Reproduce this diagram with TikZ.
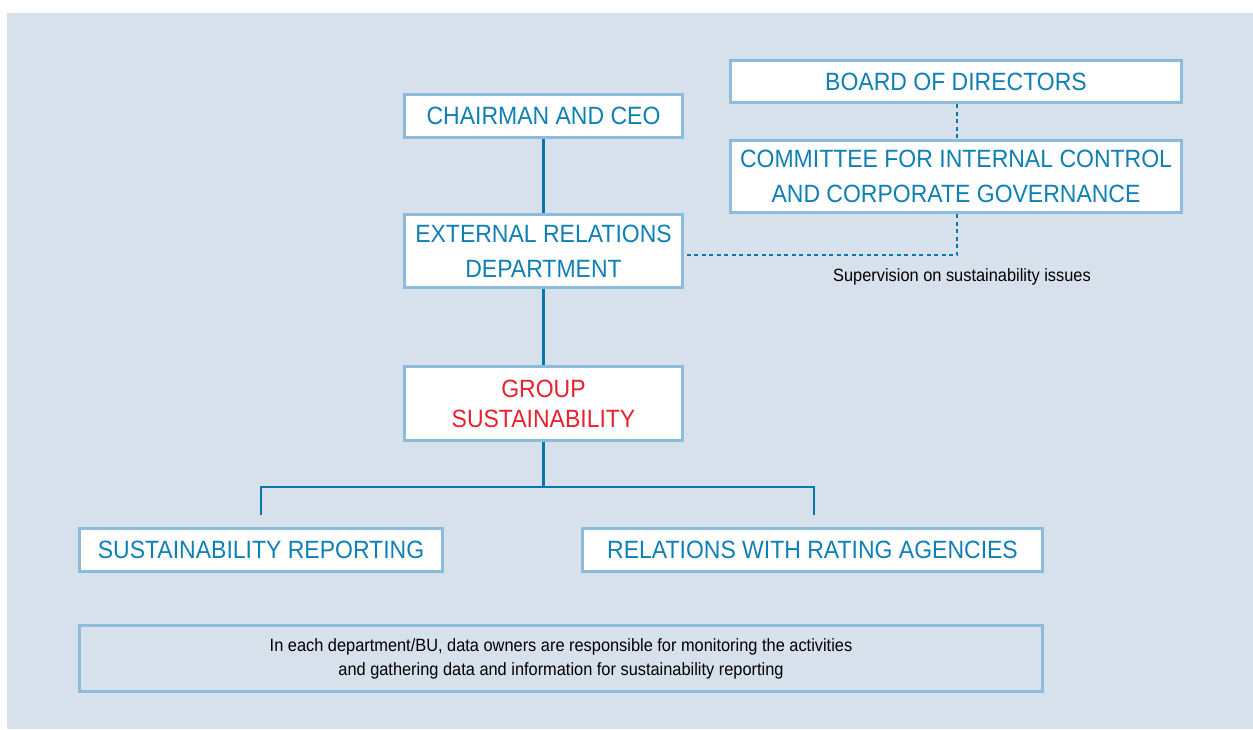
\documentclass[tikz,border=0pt]{standalone}
\usepackage{fontspec}
\setmainfont{Liberation Sans}[FakeStretch=0.92]
\definecolor{bgblue}{HTML}{D6E1EC}
\definecolor{boxborder}{HTML}{8DBBDB}
\definecolor{textblue}{HTML}{0F80B5}
\definecolor{lineblue}{HTML}{0B76AB}
\definecolor{grpred}{HTML}{E8202F}
\begin{document}
\begin{tikzpicture}[x=1pt,y=-1pt,
  box/.style={draw=boxborder, line width=3pt, fill=white, inner sep=0pt, align=center,
    text=textblue, font=\fontsize{25}{35}\selectfont},
  conn/.style={draw=lineblue, line width=2.5pt},
  dotline/.style={draw=lineblue, line width=2.5pt, dash pattern=on 4pt off 3.5pt},
  small/.style={text=black, inner sep=0pt, align=center, font=\fontsize{17.8}{24}\selectfont}]
\useasboundingbox (0,0) rectangle (1253,729);
\fill[bgblue] (7,13) rectangle (1253,729);
% boxes
\node[box, minimum width=278pt, minimum height=43pt] (chair) at (543.5,116) {CHAIRMAN AND CEO};
\node[box, minimum width=278pt, minimum height=73pt] (ext) at (543.5,251) {EXTERNAL RELATIONS\\DEPARTMENT};
\node[box, minimum width=278pt, minimum height=74pt, text=grpred, font=\fontsize{25}{30}\selectfont] (grp) at (543.5,403.5) {GROUP\\SUSTAINABILITY};
\node[box, minimum width=451pt, minimum height=42pt] (board) at (956,81.5) {BOARD OF DIRECTORS};
\node[box, minimum width=451pt, minimum height=72pt] (comm) at (956,176.5) {COMMITTEE FOR INTERNAL CONTROL\\AND CORPORATE GOVERNANCE};
\node[box, minimum width=363pt, minimum height=43pt] (srep) at (261,550) {SUSTAINABILITY REPORTING};
\node[box, minimum width=460pt, minimum height=43pt] (rra) at (812.5,550) {RELATIONS WITH RATING AGENCIES};
\node[box, small, fill=none, minimum width=963pt, minimum height=66pt] (note) at (561,658.5)
  {In each department/BU, data owners are responsible for monitoring the activities\\and gathering data and information for sustainability reporting};
\node[small] (sup) at (962,277) {Supervision on sustainability issues};
% solid connectors
\draw[conn] (chair.south) -- (ext.north);
\draw[conn] (ext.south) -- (grp.north);
\coordinate (jl) at (261,487);
\coordinate (jr) at (814,487);
\coordinate (el) at (261,515);
\coordinate (er) at (814,515);
\draw[conn] (grp.south) -- (grp.south |- jl);
\draw[conn] (el) -- (jl) -- (jr) -- (er);
% dotted connectors
\coordinate (dc) at (957,255);
\draw[dotline] (board.south -| dc) -- (comm.north -| dc);
\draw[dotline] (comm.south -| dc) -- (dc) -- (ext.east |- dc);
\end{tikzpicture}
\end{document}
